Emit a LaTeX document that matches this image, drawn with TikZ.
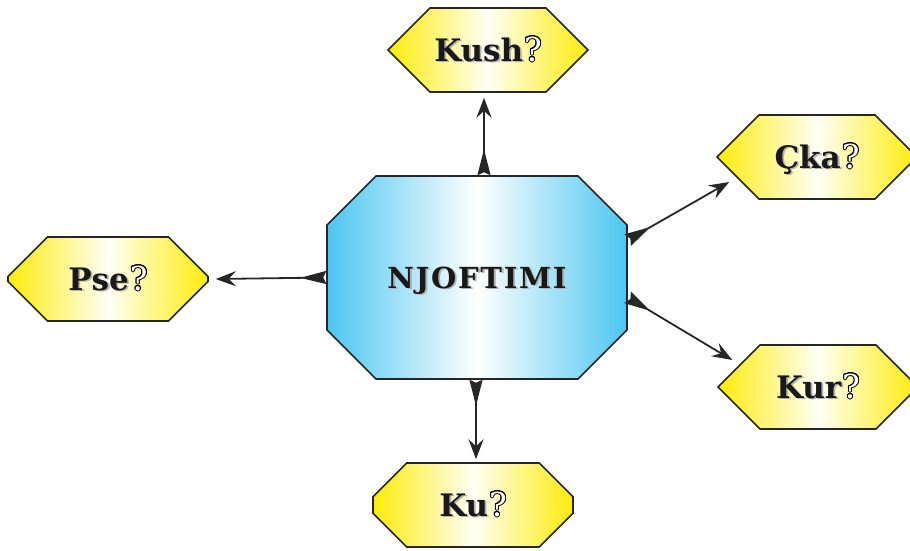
\documentclass[tikz,border=0pt]{standalone}
\usepackage{fontspec}
\setmainfont{DejaVu Serif}
\usepackage{contour}
\usetikzlibrary{shapes.misc,arrows.meta}
\contourlength{1pt}
\definecolor{infoblue}{RGB}{77,198,240}
\definecolor{askyellow}{RGB}{255,236,10}
\newcommand\shadowtext[1]{\makebox[0pt][l]{\hspace{1.8pt}\raisebox{-1.8pt}{\textcolor{black!30}{#1}}}\textcolor{black!90}{#1}}
\newcommand\askmark{\hspace{1pt}{\mdseries\fontsize{33}{33}\selectfont\color{white}\contour{black}{?}}}
\newcommand\centred[2]{\smash{\raisebox{-#1}{#2}}}
\tikzset{
	asknode/.style={chamfered rectangle, chamfered rectangle xsep=44pt, chamfered rectangle ysep=42pt,
		draw=black!85, line width=1.6pt, inner sep=0pt, minimum width=200pt, minimum height=84pt,
		left color=askyellow, right color=askyellow, middle color=yellow!4,
		font=\fontsize{31}{31}\selectfont\bfseries},
	link/.style={line width=1.8pt, black!85, {Stealth[reversed,length=26pt,width=13pt,inset=3pt]}-{Stealth[length=20pt,width=15pt,inset=7pt]}}
}
\begin{document}
\begin{tikzpicture}[x=1pt,y=-1pt]
	\useasboundingbox (0,0) rectangle (910,550);
	\node(info) at (477,277.5)[chamfered rectangle, chamfered rectangle xsep=48pt, chamfered rectangle ysep=49pt,
		draw=black!85, line width=1.6pt, inner sep=0pt, minimum width=300pt, minimum height=203pt,
		left color=infoblue, right color=infoblue, middle color=white,
		font=\fontsize{29}{30}\selectfont\bfseries]{\centred{10.5pt}{\addfontfeature{LetterSpace=6}\shadowtext{NJOFTIMI}}};
	\node(kush)[asknode] at (488,50){\centred{11pt}{\shadowtext{Kush}\askmark}};
	\node(cka)[asknode] at (817,157){\centred{11pt}{\shadowtext{Çka}\askmark}};
	\node(pse)[asknode] at (108,279){\centred{11pt}{\shadowtext{Pse}\askmark}};
	\node(kur)[asknode] at (818,387){\centred{11pt}{\shadowtext{Kur}\askmark}};
	\node(ku)[asknode] at (473,505){\centred{11pt}{\shadowtext{Ku}\askmark}};
	\draw[link]([xshift=7pt]info.north) to ([xshift=-4pt,yshift=-5pt]kush.south);
	\draw[link](info.west) to ([xshift=7pt]pse.east);
	\draw[link]([xshift=-1pt]info.south) to ([xshift=3pt,yshift=3pt]ku.north);
	\draw[link]([yshift=37.5pt]info.east) to ([xshift=13pt,yshift=-25pt]cka.west);
	\draw[link]([yshift=-20pt]info.east) to ([xshift=15pt,yshift=27pt]kur.west);
\end{tikzpicture}
\end{document}
